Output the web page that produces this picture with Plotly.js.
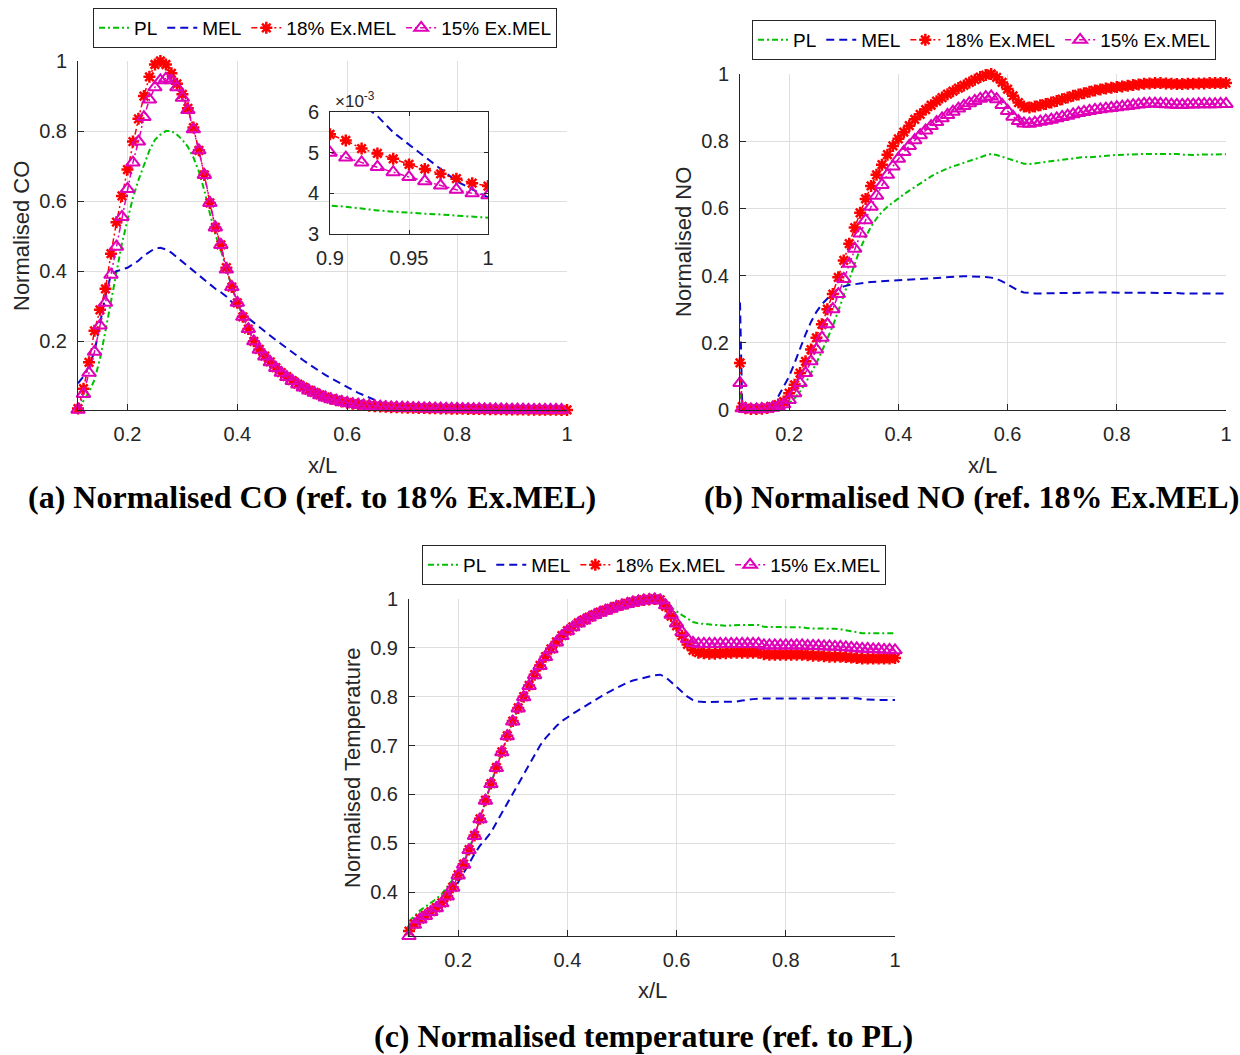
<!DOCTYPE html>
<html><head><meta charset="utf-8">
<script src="https://cdn.plot.ly/plotly-3.0.1.min.js"></script>
<style>html,body{margin:0;padding:0;background:#fff}</style>
</head><body><div id="chart" style="width:1240px;height:1055px"></div>
<script>
// ---------- shared x positions (x/L) ----------
const xs = [0.11,0.12,0.13,0.14,0.15,0.16,0.17,0.18,0.19,0.20,
0.21,0.22,0.23,0.24,0.25,0.26,0.27,0.28,0.29,0.30,
0.31,0.32,0.33,0.34,0.35,0.36,0.37,0.38,0.39,0.40,
0.41,0.42,0.43,0.44,0.45,0.46,0.47,0.48,0.49,0.50,
0.51,0.52,0.53,0.54,0.55,0.56,0.57,0.58,0.59,0.60,
0.61,0.62,0.63,0.64,0.65,0.66,0.67,0.68,0.69,0.70,
0.71,0.72,0.73,0.74,0.75,0.76,0.77,0.78,0.79,0.80,
0.81,0.82,0.83,0.84,0.85,0.86,0.87,0.88,0.89,0.90,
0.91,0.92,0.93,0.94,0.95,0.96,0.97,0.98,0.99,1.00];

const xNO = [0.11,0.114,0.12,0.13,0.14,0.15,0.16,0.17,0.18,0.19,0.20,0.21,
0.22,0.23,0.24,0.25,0.26,0.27,0.28,0.29,0.30,0.31,
0.32,0.33,0.34,0.35,0.36,0.37,0.38,0.39,0.40,0.41,
0.42,0.43,0.44,0.45,0.46,0.47,0.48,0.49,0.50,0.51,
0.52,0.53,0.54,0.55,0.56,0.57,0.58,0.59,0.60,0.61,
0.62,0.63,0.64,0.65,0.66,0.67,0.68,0.69,0.70,0.71,
0.72,0.73,0.74,0.75,0.76,0.77,0.78,0.79,0.80,0.81,
0.82,0.83,0.84,0.85,0.86,0.87,0.88,0.89,0.90,0.91,
0.92,0.93,0.94,0.95,0.96,0.97,0.98,0.99,1.00];

const seriesNames = ['PL','MEL','18% Ex.MEL','15% Ex.MEL'];

// ---------- (a) Normalised CO ----------
const coPL = [0.005,0.03,0.055,0.09,0.15,0.23,0.31,0.40,0.48,0.545,
0.61,0.66,0.705,0.745,0.775,0.79,0.80,0.80,0.79,0.775,
0.755,0.725,0.685,0.63,0.565,0.505,0.46,0.405,0.355,0.31,
0.27,0.235,0.20,0.175,0.155,0.138,0.122,0.108,0.096,0.085,
0.075,0.066,0.058,0.051,0.044,0.038,0.033,0.029,0.025,0.022,
0.019,0.017,0.015,0.0135,0.0122,0.0111,0.0101,0.0093,0.0086,0.008,
0.0075,0.007,0.0066,0.0062,0.0059,0.0056,0.0053,0.0051,0.0049,0.0047,
0.0046,0.0044,0.0043,0.0042,0.0041,0.004,0.0039,0.00385,0.0038,0.0037,
0.00367,0.00362,0.00358,0.00355,0.00352,0.0035,0.00348,0.00345,0.00342,0.0034];
const coMEL = [0.08,0.10,0.13,0.17,0.25,0.33,0.39,0.40,0.405,0.41,
0.42,0.43,0.445,0.455,0.465,0.467,0.462,0.453,0.44,0.427,
0.414,0.40,0.387,0.374,0.362,0.35,0.34,0.328,0.312,0.298,
0.284,0.266,0.253,0.24,0.228,0.216,0.204,0.192,0.18,0.168,
0.157,0.146,0.135,0.124,0.114,0.104,0.095,0.086,0.077,0.069,
0.061,0.053,0.046,0.039,0.032,0.026,0.022,0.019,0.017,0.0155,
0.0145,0.0137,0.013,0.0124,0.0118,0.0113,0.0108,0.0104,0.01,0.0096,
0.0093,0.009,0.0087,0.0084,0.0081,0.0078,0.0076,0.0074,0.0071,0.0068,
0.0065,0.0062,0.0059,0.0055,0.0052,0.0049,0.0046,0.0043,0.0041,0.0039];
const coEx18 = [0.008,0.065,0.14,0.23,0.29,0.35,0.45,0.54,0.615,0.69,
0.77,0.835,0.90,0.955,0.99,1.0,0.99,0.965,0.935,0.905,
0.865,0.81,0.745,0.675,0.595,0.525,0.475,0.41,0.355,0.31,
0.27,0.235,0.20,0.177,0.158,0.141,0.125,0.111,0.099,0.088,
0.078,0.069,0.061,0.054,0.047,0.041,0.036,0.032,0.028,0.025,
0.022,0.02,0.018,0.016,0.015,0.014,0.013,0.012,0.0115,0.011,
0.0106,0.0102,0.0098,0.0094,0.009,0.0087,0.0084,0.0081,0.0078,0.0075,
0.0073,0.007,0.0068,0.0066,0.0064,0.0062,0.006,0.0058,0.0056,0.00545,
0.0053,0.0051,0.00498,0.00485,0.00471,0.0046,0.00448,0.00436,0.00425,0.00418];
const coEx15 = [0.005,0.05,0.11,0.17,0.245,0.31,0.39,0.47,0.555,0.635,
0.71,0.77,0.84,0.89,0.925,0.945,0.95,0.945,0.925,0.895,
0.86,0.805,0.745,0.675,0.595,0.525,0.475,0.405,0.355,0.31,
0.27,0.235,0.20,0.176,0.157,0.14,0.124,0.11,0.098,0.087,
0.077,0.068,0.06,0.053,0.046,0.04,0.035,0.031,0.027,0.024,
0.021,0.019,0.017,0.0155,0.0143,0.0133,0.0124,0.0116,0.011,0.0104,
0.0099,0.0095,0.0091,0.0087,0.0084,0.0081,0.0078,0.0075,0.0073,0.0071,
0.0068,0.0066,0.0064,0.0062,0.006,0.0058,0.0056,0.0054,0.0052,0.005,
0.00488,0.00476,0.00465,0.00452,0.0044,0.0043,0.00419,0.00409,0.004,0.00395];

// ---------- (b) Normalised NO ----------
const noPL = [0.05,0.003,
0.002,0.002,0.002,0.002,0.003,0.005,0.008,0.013,0.02,0.035,
0.055,0.08,0.11,0.14,0.175,0.21,0.25,0.295,0.34,0.385,
0.43,0.48,0.515,0.545,0.57,0.59,0.605,0.618,0.63,0.642,
0.653,0.664,0.675,0.685,0.695,0.704,0.712,0.719,0.725,0.73,
0.735,0.74,0.746,0.752,0.758,0.762,0.759,0.754,0.748,0.742,
0.737,0.733,0.732,0.734,0.737,0.739,0.741,0.743,0.745,0.747,
0.749,0.751,0.753,0.752,0.754,0.756,0.757,0.758,0.759,0.76,
0.76,0.761,0.761,0.762,0.762,0.762,0.762,0.763,0.763,0.762,
0.76,0.759,0.759,0.76,0.76,0.761,0.761,0.761,0.761];
const noMEL = [0.32,0.02,
0.01,0.005,0.004,0.005,0.008,0.02,0.04,0.07,0.10,0.14,
0.185,0.225,0.262,0.292,0.315,0.333,0.348,0.36,0.368,0.372,
0.375,0.377,0.379,0.381,0.382,0.384,0.386,0.387,0.388,0.389,
0.39,0.391,0.392,0.393,0.394,0.395,0.396,0.396,0.397,0.397,
0.398,0.398,0.398,0.397,0.396,0.394,0.39,0.383,0.373,0.363,
0.355,0.35,0.348,0.347,0.347,0.347,0.348,0.348,0.348,0.349,
0.349,0.349,0.349,0.35,0.35,0.35,0.35,0.35,0.35,0.35,
0.35,0.349,0.349,0.349,0.349,0.349,0.348,0.348,0.348,0.348,
0.347,0.347,0.347,0.347,0.347,0.347,0.347,0.347,0.347];
const noEx18 = [0.14,0.01,
0.005,0.003,0.003,0.004,0.006,0.01,0.016,0.025,0.05,0.075,
0.11,0.145,0.18,0.215,0.255,0.3,0.345,0.395,0.445,0.495,
0.543,0.587,0.628,0.667,0.7,0.73,0.76,0.786,0.807,0.827,
0.846,0.865,0.88,0.894,0.907,0.919,0.93,0.94,0.949,0.958,
0.966,0.975,0.983,0.991,0.997,1.0,0.99,0.975,0.955,0.935,
0.915,0.903,0.9,0.903,0.907,0.911,0.915,0.92,0.925,0.93,
0.935,0.939,0.943,0.947,0.951,0.954,0.957,0.959,0.961,0.963,
0.965,0.967,0.969,0.971,0.972,0.973,0.973,0.972,0.971,0.97,
0.97,0.971,0.971,0.972,0.972,0.973,0.973,0.973,0.973];
const noEx15 = [0.08,0.005,
0.003,0.002,0.002,0.003,0.004,0.007,0.011,0.017,0.03,0.05,
0.08,0.11,0.145,0.18,0.215,0.255,0.3,0.345,0.39,0.435,
0.48,0.525,0.565,0.605,0.638,0.67,0.7,0.725,0.748,0.768,
0.786,0.803,0.818,0.832,0.845,0.857,0.868,0.878,0.888,0.897,
0.905,0.913,0.92,0.926,0.931,0.933,0.925,0.908,0.89,0.873,
0.86,0.853,0.852,0.855,0.858,0.861,0.864,0.868,0.872,0.876,
0.88,0.884,0.887,0.89,0.893,0.895,0.897,0.899,0.901,0.903,
0.905,0.907,0.909,0.911,0.912,0.912,0.911,0.91,0.909,0.908,
0.908,0.909,0.909,0.91,0.91,0.91,0.91,0.911,0.911];

// ---------- (c) Normalised temperature ----------
const tPL = [0.34,0.352,0.362,0.37,0.378,0.386,0.396,0.41,0.425,0.44,
0.46,0.488,0.517,0.55,0.588,0.622,0.655,0.687,0.72,0.75,
0.777,0.8,0.823,0.845,0.864,0.882,0.898,0.912,0.925,0.935,
0.943,0.951,0.957,0.963,0.968,0.973,0.977,0.981,0.985,0.988,
0.991,0.994,0.996,0.998,0.999,1.0,0.998,0.99,0.982,0.975,
0.967,0.96,0.953,0.95,0.949,0.948,0.947,0.946,0.945,0.946,
0.947,0.947,0.947,0.947,0.947,0.943,0.943,0.943,0.943,0.943,
0.943,0.943,0.942,0.94,0.94,0.94,0.94,0.939,0.939,0.938,
0.936,0.933,0.931,0.93,0.93,0.93,0.93,0.93,0.93,0.93];
const tMEL = [0.33,0.338,0.345,0.352,0.36,0.368,0.378,0.39,0.402,0.42,
0.438,0.458,0.478,0.495,0.508,0.522,0.542,0.562,0.582,0.602,
0.622,0.643,0.663,0.682,0.70,0.715,0.728,0.74,0.75,0.758,
0.765,0.772,0.779,0.786,0.793,0.80,0.806,0.812,0.818,0.824,
0.829,0.833,0.836,0.839,0.842,0.844,0.845,0.84,0.83,0.82,
0.81,0.80,0.793,0.79,0.789,0.789,0.789,0.789,0.79,0.79,
0.79,0.792,0.794,0.795,0.796,0.796,0.796,0.797,0.797,0.797,
0.797,0.797,0.797,0.797,0.797,0.797,0.797,0.797,0.797,0.797,
0.797,0.797,0.797,0.795,0.794,0.793,0.793,0.793,0.793,0.793];
const tEx18 = [0.32,0.335,0.345,0.352,0.36,0.368,0.378,0.392,0.41,0.435,
0.457,0.487,0.516,0.55,0.588,0.622,0.655,0.687,0.72,0.75,
0.777,0.8,0.823,0.845,0.864,0.882,0.898,0.912,0.925,0.935,
0.943,0.951,0.957,0.963,0.968,0.973,0.977,0.981,0.985,0.988,
0.991,0.994,0.996,0.998,0.999,1.0,0.998,0.985,0.965,0.945,
0.925,0.907,0.895,0.89,0.889,0.888,0.888,0.889,0.889,0.89,
0.89,0.89,0.89,0.89,0.89,0.887,0.886,0.886,0.886,0.886,
0.886,0.886,0.886,0.885,0.884,0.884,0.883,0.882,0.882,0.882,
0.881,0.88,0.879,0.878,0.878,0.878,0.878,0.878,0.878,0.879];
const tEx15 = [0.31,0.333,0.344,0.351,0.359,0.367,0.377,0.391,0.409,0.434,
0.456,0.486,0.515,0.549,0.587,0.621,0.654,0.686,0.719,0.749,
0.776,0.799,0.822,0.844,0.863,0.881,0.897,0.911,0.924,0.934,
0.942,0.95,0.956,0.962,0.967,0.972,0.976,0.98,0.984,0.987,
0.99,0.993,0.995,0.997,0.998,0.999,0.997,0.987,0.968,0.95,
0.932,0.918,0.91,0.908,0.908,0.908,0.908,0.908,0.908,0.908,
0.908,0.908,0.908,0.908,0.908,0.905,0.905,0.905,0.905,0.905,
0.905,0.905,0.905,0.904,0.904,0.904,0.903,0.903,0.902,0.902,
0.901,0.9,0.899,0.898,0.898,0.897,0.897,0.896,0.896,0.895];

// ---------- tick labels ----------
const xTickVals = [0.2,0.4,0.6,0.8,1];
const xTickText = ['0.2','0.4','0.6','0.8','1'];
const coTickVals = [0.2,0.4,0.6,0.8,1];
const coTickText = ['0.2','0.4','0.6','0.8','1'];
const noTickVals = [0,0.2,0.4,0.6,0.8,1];
const noTickText = ['0','0.2','0.4','0.6','0.8','1'];
const tTickVals = [0.4,0.5,0.6,0.7,0.8,0.9,1];
const tTickText = ['0.4','0.5','0.6','0.7','0.8','0.9','1'];
const insetXVals = [0.9,0.95,1];
const insetXText = ['0.9','0.95','1'];
const insetYVals = [0.003,0.004,0.005,0.006];
const insetYText = ['3','4','5','6'];

// ---------- styling ----------
const COL = ['#00C000','#0A0ACC','#FF0000','#E000B8'];
const DASHDOT = '6px,3px,2px,3px';
function styleFor(i){
  if(i===0) return {mode:'lines', line:{color:COL[0], width:2, dash:DASHDOT}};
  if(i===1) return {mode:'lines', line:{color:COL[1], width:2, dash:'8px,5px'}};
  if(i===2) return {mode:'lines+markers', line:{color:COL[2], width:1.5, dash:DASHDOT},
     marker:{symbol:'asterisk-open', size:10, color:COL[2], line:{color:COL[2], width:2.5}}};
  return {mode:'lines+markers', line:{color:COL[3], width:1.5, dash:DASHDOT},
     marker:{symbol:'triangle-up-open', size:12, color:COL[3], line:{color:COL[3], width:2}}};
}
function mk(x, ys, xa, ya, leg, show, clip){
  return ys.map((y,i)=>Object.assign({type:'scatter', x:x, y:y, name:seriesNames[i],
    xaxis:xa, yaxis:ya, legend:leg, showlegend:show, cliponaxis:clip, hoverinfo:'skip'}, styleFor(i)));
}
const traces = [].concat(
  mk(xs, [coPL,coMEL,coEx18,coEx15], 'x', 'y', 'legend', true, false),
  mk(xNO, [noPL,noMEL,noEx18,noEx15], 'x2', 'y2', 'legend2', true, false),
  mk(xs, [tPL,tMEL,tEx18,tEx15], 'x3', 'y3', 'legend3', true, false),
  mk(xs, [coPL,coMEL,coEx18,coEx15], 'x4', 'y4', 'legend', false, true)
);

const INK = '#262626';
const tickFont = {family:'Liberation Sans, Arial, sans-serif', size:20, color:INK};
function ax(extra){
  return Object.assign({showline:true, linecolor:INK, linewidth:1, ticks:'inside', ticklen:6,
    tickcolor:INK, showgrid:true, gridcolor:'#dedede', gridwidth:1, zeroline:false,
    tickfont:tickFont, fixedrange:true, ticklabelstandoff:6}, extra);
}
const W = 1240, H = 1055;
const px = v => v / W, py = v => 1 - v / H;

const legendBase = {orientation:'h', xanchor:'left', yanchor:'top', bgcolor:'#fff',
  bordercolor:INK, borderwidth:1, itemwidth:30,
  font:{family:'Liberation Sans, Arial, sans-serif', size:19, color:'#000'}};

const titleFont = {family:'Liberation Sans, Arial, sans-serif', size:22, color:INK};
const capFont = {family:'Liberation Serif, Times New Roman, serif', size:32, color:'#000', weight:'bold'};
function ann(text, x, y, font, angle){
  return {text:text, x:px(x), y:py(y), xref:'paper', yref:'paper', showarrow:false,
    xanchor:'center', yanchor:'middle', font:font, textangle:angle||0};
}

const layout = {
  width:W, height:H, margin:{l:0,r:0,t:0,b:0},
  paper_bgcolor:'#fff', plot_bgcolor:'#fff',
  font:{family:'Liberation Sans, Arial, sans-serif', color:INK},
  xaxis: ax({domain:[px(78),px(567)], range:[0.11,1], tickvals:xTickVals, ticktext:xTickText, anchor:'y'}),
  yaxis: ax({domain:[py(410),py(61)], range:[0.004,1], tickvals:coTickVals, ticktext:coTickText, anchor:'x'}),
  xaxis2: ax({domain:[px(740),px(1226)], range:[0.11,1], tickvals:xTickVals, ticktext:xTickText, anchor:'y2'}),
  yaxis2: ax({domain:[py(410),py(74)], range:[0,1], tickvals:noTickVals, ticktext:noTickText, anchor:'x2'}),
  xaxis3: ax({domain:[px(409),px(895)], range:[0.11,1], tickvals:xTickVals, ticktext:xTickText, anchor:'y3'}),
  yaxis3: ax({domain:[py(936),py(599)], range:[0.31,1], tickvals:tTickVals, ticktext:tTickText, anchor:'x3'}),
  xaxis4: ax({domain:[px(330),px(488)], range:[0.9,1], tickvals:insetXVals, ticktext:insetXText, anchor:'y4', mirror:'ticks', ticklen:4}),
  yaxis4: ax({domain:[py(234),py(112)], range:[0.003,0.006], tickvals:insetYVals, ticktext:insetYText, anchor:'x4', mirror:'ticks', ticklen:4}),
  legend: Object.assign({x:px(93), y:py(8)}, legendBase),
  legend2: Object.assign({x:px(752), y:py(20)}, legendBase),
  legend3: Object.assign({x:px(422), y:py(545)}, legendBase),
  annotations:[
    ann('x/L', 322, 465, titleFont),
    ann('x/L', 982, 465, titleFont),
    ann('x/L', 652, 990, titleFont),
    ann('Normalised CO', 22, 236, titleFont, -90),
    ann('Normalised NO', 683, 242, titleFont, -90),
    ann('Normalised Temperature', 352, 768, titleFont, -90),
    ann('×10<sup>-3</sup>', 355, 100, {family:'Liberation Sans, Arial, sans-serif', size:17, color:INK}),
    ann('(a) Normalised CO (ref. to 18% Ex.MEL)', 312, 497, capFont),
    ann('(b) Normalised NO (ref. 18% Ex.MEL)', 971, 497, capFont),
    ann('(c) Normalised temperature (ref. to PL)', 643, 1036, capFont)
  ]
};
Plotly.newPlot('chart', traces, layout, {staticPlot:true, displayModeBar:false});
</script></body></html>
